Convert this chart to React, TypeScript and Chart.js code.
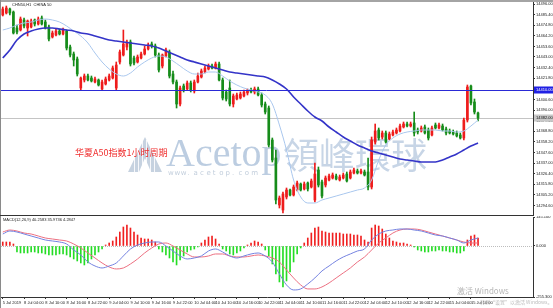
import React, { useEffect, useRef } from 'react';
import { Chart, registerables } from 'chart.js';
Chart.register(...registerables);

const SLOT_COUNT = 150;

const OPEN = [14485,14487,14491,14488,14472,14470,14480,14472,14473,14480,
 14476,14482,14478,14473,14463,14465,14469,14466,14469,14453,
 14446,14441,14412,14420,14424,14422,14418,14420,14411,14416,
 14420,14422,14412,14438,14445,14453,14458,14442,14438,14442,
 14446,14451,14456,14454,14445,14434,14444,14448,14426,14418,
 14396,14414,14411,14417,14409,14418,14423,14428,14431,14434,
 14432,14436,14420,14408,14412,14396,14401,14402,14404,14407,
 14410,14408,14411,14405,14396,14392,14360,14342,14295,14290,
 14303,14310,14305,14310,14316,14311,14317,14313,14300,14330,
 14318,14315,14320,14322,14324,14320,14322,14326,14322,14327,
 14329,14327,14328,14328,14313,14358,14370,14363,14367,14361,
 14365,14367,14369,14373,14376,14374,14377,14370,14369,14373,
 14370,14365,14375,14372,14374,14371,14369,14368,14367,14365,
 14362,14380,14414,14398,14387];

const HIGH = [14493,14494,14492,14489,14475,14483,14482,14480,14481,14481,
 14483,14484,14480,14475,14469,14471,14471,14472,14470,14455,
 14448,14443,14423,14426,14426,14424,14423,14421,14420,14423,
 14426,14434,14438,14450,14470,14460,14460,14444,14445,14448,
 14454,14457,14458,14456,14447,14446,14452,14450,14429,14420,
 14414,14416,14419,14419,14420,14427,14431,14434,14436,14436,
 14438,14438,14422,14410,14420,14406,14407,14408,14410,14411,
 14412,14413,14413,14407,14398,14394,14362,14350,14304,14308,
 14312,14311,14315,14319,14317,14318,14318,14321,14337,14333,
 14320,14324,14326,14327,14326,14325,14327,14328,14330,14332,
 14331,14331,14330,14342,14363,14376,14372,14369,14369,14368,
 14370,14372,14376,14378,14378,14378,14388,14372,14374,14375,
 14372,14374,14377,14377,14376,14373,14371,14370,14369,14367,
 14382,14415,14415,14401,14388];

const LOW = [14484,14486,14485,14466,14466,14469,14472,14464,14472,14474,
 14475,14475,14471,14459,14462,14464,14465,14465,14450,14443,
 14434,14424,14410,14418,14419,14418,14417,14414,14410,14415,
 14419,14421,14410,14436,14444,14450,14434,14435,14437,14441,
 14445,14450,14452,14443,14428,14432,14443,14422,14416,14392,
 14394,14408,14410,14408,14407,14417,14422,14427,14430,14431,
 14431,14419,14400,14399,14394,14393,14400,14401,14403,14405,
 14407,14406,14404,14393,14386,14353,14338,14296,14292,14287,
 14301,14304,14304,14309,14309,14310,14309,14312,14298,14313,
 14302,14313,14319,14321,14320,14319,14321,14318,14321,14326,
 14326,14326,14324,14310,14311,14356,14360,14361,14357,14360,
 14364,14366,14368,14372,14373,14373,14364,14366,14368,14366,
 14360,14364,14371,14371,14369,14365,14366,14365,14363,14361,
 14360,14378,14395,14386,14379];

const CLOSE = [14491,14492,14487,14467,14468,14481,14474,14479,14479,14476,
 14481,14476,14472,14461,14467,14469,14466,14470,14452,14445,
 14440,14426,14422,14424,14420,14419,14421,14415,14418,14421,
 14424,14432,14435,14448,14456,14458,14436,14437,14443,14446,
 14451,14455,14454,14445,14430,14445,14450,14424,14418,14396,
 14412,14410,14417,14410,14418,14424,14429,14432,14434,14432,
 14436,14420,14402,14401,14396,14404,14405,14406,14408,14410,
 14408,14411,14405,14395,14388,14355,14340,14300,14302,14306,
 14310,14305,14313,14317,14310,14316,14311,14319,14326,14315,
 14304,14322,14324,14325,14321,14323,14325,14319,14328,14330,
 14327,14329,14325,14313,14360,14369,14362,14367,14358,14366,
 14368,14370,14374,14376,14374,14376,14367,14368,14372,14367,
 14362,14372,14372,14375,14370,14367,14367,14366,14364,14362,
 14380,14413,14397,14388,14382];

// moving averages, one reading every second bar
const MA_SLOW = [14442,14450,14460,14466,14469,14471,14472,14472,14471,14470,
 14469,14467,14466,14464,14462,14460,14459,14458,14457,14456,
 14455,14454,14452,14449,14446,14443,14440,14438,14436,14434,
 14432,14430,14428,14427,14426,14425,14424,14423,14420,14416,
 14411,14403,14396,14389,14383,14379,14373,14368,14363,14359,
 14355,14352,14349,14347,14345,14343,14341,14340,14339,14338,
 14338,14338,14340,14343,14346,14350,14354,14357];

const MA_FAST = [14470,14472,14475,14477,14478,14480,14481,14480,14478,14474,
 14469,14464,14457,14447,14438,14431,14426,14424,14427,14433,
 14438,14442,14444,14443,14439,14434,14429,14426,14426,14428,
 14428,14424,14419,14415,14412,14410,14408,14405,14396,14375,
 14350,14320,14303,14297,14297,14300,14302,14304,14306,14308,
 14310,14312,14320,14340,14355,14362,14366,14368,14369,14370,
 14370,14370,14369,14369,14368,14369,14374,14380];

const MACD_HIST = [20,20,20,10,-30,-35,-35,-35,-30,-30,
 -35,-35,-40,-45,-45,-45,-40,-40,-45,-55,
 -65,-75,-85,-95,-85,-65,-45,-30,-15,5,
 15,25,45,70,95,105,90,70,55,40,
 35,35,30,20,-15,-30,-45,-60,-80,-95,
 -70,-50,-30,-20,-15,-5,15,30,45,50,
 35,10,-15,-25,-40,-45,-35,-25,-10,5,
 15,25,20,10,-20,-50,-90,-140,-180,-205,
 -175,-130,-80,-40,-10,15,40,65,90,95,
 75,70,65,65,65,65,60,60,60,55,
 55,50,30,20,90,105,100,85,60,40,
 25,20,15,15,10,5,-5,-20,-25,-30,
 -30,-25,-25,-20,-25,-25,-30,-30,-35,-35,
 -25,30,50,55,40];

const MACD_MAIN = [60,75,70,60,50,40,30,25,20,10,
 -20,-45,-80,-100,-110,-100,-85,-50,-15,5,
 15,20,20,0,-25,-50,-65,-60,-50,-25,
 -15,-30,-50,-60,-50,-40,-35,-50,-80,-140,
 -195,-220,-215,-190,-160,-125,-100,-75,-55,-40,
 -25,-15,30,60,75,80,85,85,80,75,
 65,55,50,40,30,15,30,40];

const MACD_SIGNAL = [70,80,75,65,60,50,40,35,30,25,
 10,-10,-35,-60,-85,-105,-115,-110,-90,-65,
 -35,-10,10,15,0,-20,-40,-55,-55,-50,
 -40,-40,-50,-55,-55,-50,-45,-50,-60,-80,
 -120,-160,-195,-215,-215,-205,-185,-160,-135,-110,
 -80,-55,-20,15,40,65,80,85,85,80,
 70,60,50,40,30,20,15,15];

const PRICE_TICKS = [14496.0,14485.4,14474.8,14464.2,14453.6,14443.0,14432.4,14421.8,14411.2,14400.6,
 14390.0,14379.4,14368.8,14358.2,14347.6,14337.0,14326.4,14315.8,14305.2,14294.6];
const PRICE_MIN = 14285;
const PRICE_MAX = 14498;
const LEVEL_LINE = 14410;

const MACD_TICKS = [145.1, 0, -255.3];

const TIME_LABELS = ['5 Jul 2019','8 Jul 04:00','8 Jul 10:00','8 Jul 16:00','8 Jul 22:00','9 Jul 04:00',
 '9 Jul 10:00','9 Jul 16:00','9 Jul 22:00','10 Jul 04:00','10 Jul 10:00','10 Jul 16:00','10 Jul 22:00',
 '11 Jul 04:00','11 Jul 10:00','11 Jul 16:00','11 Jul 22:00','12 Jul 04:00','12 Jul 10:00','12 Jul 16:00',
 '12 Jul 22:00','15 Jul 04:00','15 Jul 10:00'];
const LABEL_STEP = 6;

const TITLE = 'CHN50,H1  CHINA 50';
const MACD_TITLE = 'MACD(12,26,9) 40.2583 35.9736 4.2847';
const NOTE = '华夏A50指数1小时周期';

const UP = '#ee1c1c';
const DOWN = '#168c1a';
const TINY = '4px "Liberation Sans"';

function sparse(vals: number[]): (number | null)[] {
  return Array.from({ length: SLOT_COUNT }, (_, i) => (i % 2 === 0 && i / 2 < vals.length ? vals[i / 2] : null));
}

export default function App() {
  const mainRef = useRef<HTMLCanvasElement>(null);
  const macdRef = useRef<HTMLCanvasElement>(null);

  useEffect(() => {
    document.body.style.margin = '0';
    const labels = Array.from({ length: SLOT_COUNT }, (_, i) => String(i));
    const candleColors = CLOSE.map((c, i) => (c >= OPEN[i] ? UP : DOWN));

    const mainDecor = {
      id: 'mainDecor',
      beforeDatasetsDraw(chart: any) {
        const ctx = chart.ctx;
        const { left, right } = chart.chartArea;
        ctx.save();
        // watermark logo
        ctx.fillStyle = '#c6d2e0';
        ctx.beginPath(); ctx.moveTo(128, 172); ctx.lineTo(145, 137); ctx.lineTo(162, 172); ctx.closePath(); ctx.fill();
        ctx.strokeStyle = 'rgba(255,255,255,0.85)'; ctx.lineWidth = 1;
        for (let x = 134; x <= 156; x += 4) { ctx.beginPath(); ctx.moveTo(x + 0.5, 140); ctx.lineTo(x + 0.5, 172); ctx.stroke(); }
        ctx.fillStyle = '#ffffff';
        ctx.beginPath(); ctx.moveTo(139, 172); ctx.lineTo(145, 158); ctx.lineTo(151, 172); ctx.closePath(); ctx.fill();
        // watermark text
        ctx.textBaseline = 'alphabetic';
        ctx.textAlign = 'left';
        ctx.fillStyle = '#bccde1';
        ctx.font = '40px "Liberation Serif"';
        ctx.fillText('Acetop', 166, 166);
        ctx.fillStyle = '#c2cedc';
        ctx.font = '7px "DejaVu Sans"';
        const site = 'www.acetop.com';
        for (let k = 0; k < site.length; k++) ctx.fillText(site[k], 168 + k * 6.4, 175);
        ctx.fillStyle = '#c7d5e6';
        ctx.font = '36px "Noto Sans CJK TC"';
        ctx.fillText('領峰環球', 283, 169);
        // current price line
        const yC = Math.round(chart.scales.y.getPixelForValue(CLOSE[CLOSE.length - 1])) + 0.5;
        ctx.strokeStyle = '#c4c4c4'; ctx.lineWidth = 1;
        ctx.beginPath(); ctx.moveTo(left, yC); ctx.lineTo(right, yC); ctx.stroke();
        ctx.restore();
      },
      afterDatasetsDraw(chart: any) {
        const ctx = chart.ctx;
        const { left, right } = chart.chartArea;
        const y = Math.round(chart.scales.y.getPixelForValue(LEVEL_LINE)) + 0.5;
        ctx.save();
        ctx.strokeStyle = '#2a2ad6'; ctx.lineWidth = 1;
        ctx.beginPath(); ctx.moveTo(left - 1, y); ctx.lineTo(right, y); ctx.stroke();
        ctx.restore();
      },
      afterDraw(chart: any) {
        const ctx = chart.ctx;
        const { right, bottom } = chart.chartArea;
        const ys = chart.scales.y;
        ctx.save();
        // frame
        ctx.fillStyle = '#a4a4a4';
        ctx.fillRect(0, 0, 553, 2);
        ctx.fillStyle = '#8a8a8a';
        ctx.fillRect(0, 0, 1, 216);
        ctx.fillStyle = '#333333';
        ctx.fillRect(0, bottom, right + 1, 1);
        // axis price boxes
        ctx.font = TINY; ctx.textBaseline = 'middle'; ctx.textAlign = 'left';
        const yl = ys.getPixelForValue(LEVEL_LINE);
        ctx.fillStyle = '#2020e4';
        ctx.fillRect(right + 1, yl - 3.5, 19, 7);
        ctx.fillStyle = '#ffffff';
        ctx.fillText(LEVEL_LINE.toFixed(2), right + 3, yl);
        const yc = ys.getPixelForValue(CLOSE[CLOSE.length - 1]);
        ctx.fillStyle = '#c8c8c8';
        ctx.fillRect(right + 1, yc - 3.5, 19, 7);
        ctx.fillStyle = '#111111';
        ctx.fillText(CLOSE[CLOSE.length - 1].toFixed(2), right + 3, yc);
        // title
        ctx.fillStyle = '#222222';
        ctx.fillText(TITLE, 12, 5);
        // red annotation
        ctx.fillStyle = '#ef2b2b';
        ctx.font = '9px "Noto Sans CJK SC"';
        ctx.fillText(NOTE, 75, 153);
        ctx.restore();
      },
    };

    const main = new Chart(mainRef.current as HTMLCanvasElement, {
      type: 'bar',
      data: {
        labels,
        datasets: [
          { type: 'line', data: sparse(MA_SLOW), borderColor: '#3434c8', borderWidth: 1.6, pointRadius: 0, spanGaps: true, cubicInterpolationMode: 'monotone', order: 0 } as any,
          { type: 'line', data: sparse(MA_FAST), borderColor: '#a9c7ee', borderWidth: 1, pointRadius: 0, spanGaps: true, cubicInterpolationMode: 'monotone', order: 0 } as any,
          { type: 'bar', data: OPEN.map((o, i) => [o, CLOSE[i]]), backgroundColor: candleColors, barThickness: 2, grouped: false, order: 1 } as any,
          { type: 'bar', data: LOW.map((l, i) => [l, HIGH[i]]), backgroundColor: candleColors, barThickness: 1, grouped: false, order: 2 } as any,
        ],
      },
      options: {
        animation: false,
        responsive: false,
        events: [],
        layout: { padding: { left: 1, top: 2, right: 0, bottom: 1 } },
        plugins: { legend: { display: false }, tooltip: { enabled: false } },
        scales: {
          x: { type: 'category', display: false, offset: true },
          y: {
            type: 'linear', position: 'right', min: PRICE_MIN, max: PRICE_MAX,
            afterBuildTicks: (s: any) => { s.ticks = PRICE_TICKS.map((v) => ({ value: v })); },
            afterFit: (s: any) => { s.width = 20; s.paddingTop = 0; s.paddingBottom = 0; },
            ticks: { autoSkip: false, padding: 1, font: { size: 4, family: 'Liberation Sans' }, color: '#222', callback: (v: any) => Number(v).toFixed(2) },
            grid: { drawOnChartArea: false, drawTicks: true, tickLength: 2, color: '#333' },
            border: { display: true, color: '#333' },
          },
        },
      } as any,
      plugins: [mainDecor],
    });

    const macdDecor = {
      id: 'macdDecor',
      beforeDatasetsDraw(chart: any) {
        const ctx = chart.ctx;
        const { left, right } = chart.chartArea;
        const y0 = Math.round(chart.scales.y.getPixelForValue(0)) + 0.5;
        ctx.save();
        ctx.strokeStyle = '#bdbdbd'; ctx.lineWidth = 1; ctx.setLineDash([1, 1]);
        ctx.beginPath(); ctx.moveTo(left, y0); ctx.lineTo(right, y0); ctx.stroke();
        ctx.restore();
      },
      afterDraw(chart: any) {
        const ctx = chart.ctx;
        ctx.save();
        ctx.fillStyle = '#8a8a8a';
        ctx.fillRect(0, 0, 1, 92);
        ctx.font = TINY; ctx.textBaseline = 'middle'; ctx.textAlign = 'left';
        ctx.fillStyle = '#222222';
        ctx.fillText(MACD_TITLE, 3, 4);
        ctx.fillStyle = 'rgba(150,150,150,0.7)';
        ctx.font = '8px "Noto Sans CJK SC"';
        ctx.fillText('激活 Windows', 457, 75);
        ctx.font = '5px "Noto Sans CJK SC"';
        ctx.fillStyle = 'rgba(160,160,160,0.7)';
        ctx.fillText('转到“设置”以激活 Windows。', 480, 86);
        ctx.restore();
      },
    };

    const isLabelIdx = (i: number) => i % LABEL_STEP === 0 && i / LABEL_STEP < TIME_LABELS.length;

    const macd = new Chart(macdRef.current as HTMLCanvasElement, {
      type: 'bar',
      data: {
        labels,
        datasets: [
          { type: 'line', data: sparse(MACD_MAIN), borderColor: '#7482e0', borderWidth: 1, pointRadius: 0, spanGaps: true, cubicInterpolationMode: 'monotone', order: 0 } as any,
          { type: 'line', data: sparse(MACD_SIGNAL), borderColor: '#ec6f80', borderWidth: 1, pointRadius: 0, spanGaps: true, cubicInterpolationMode: 'monotone', order: 0 } as any,
          { type: 'bar', data: MACD_HIST, backgroundColor: MACD_HIST.map((v) => (v >= 0 ? '#f02020' : '#25dd25')), barThickness: 1, order: 1 } as any,
        ],
      },
      options: {
        animation: false,
        responsive: false,
        events: [],
        layout: { padding: { left: 1, top: 1, right: 0, bottom: 0 } },
        plugins: { legend: { display: false }, tooltip: { enabled: false } },
        scales: {
          x: {
            type: 'category', offset: true, position: 'bottom',
            afterFit: (s: any) => { s.height = 11; s.paddingLeft = 0; s.paddingRight = 0; },
            ticks: {
              autoSkip: false, maxRotation: 0, minRotation: 0, align: 'start', padding: 1,
              font: { size: 4, family: 'Liberation Sans' }, color: '#222',
              callback: (_v: any, i: number) => (isLabelIdx(i) ? TIME_LABELS[i / LABEL_STEP] : ''),
            },
            grid: {
              offset: false, drawOnChartArea: false, drawTicks: true, tickLength: 2,
              color: (c: any) => (isLabelIdx(c.index) ? '#333' : 'rgba(0,0,0,0)'),
            },
            border: { display: true, color: '#333' },
          },
          y: {
            type: 'linear', position: 'right', min: MACD_TICKS[2], max: MACD_TICKS[0],
            afterBuildTicks: (s: any) => { s.ticks = MACD_TICKS.map((v) => ({ value: v })); },
            afterFit: (s: any) => { s.width = 20; s.paddingTop = 0; s.paddingBottom = 0; },
            ticks: { autoSkip: false, padding: 1, font: { size: 4, family: 'Liberation Sans' }, color: '#222', callback: (v: any) => Number(v).toFixed(3) },
            grid: { drawOnChartArea: false, drawTicks: true, tickLength: 2, color: '#333' },
            border: { display: true, color: '#333' },
          },
        },
      } as any,
      plugins: [macdDecor],
    });

    return () => { main.destroy(); macd.destroy(); };
  }, []);

  return (
    <div style={{ position: 'absolute', left: 0, top: 0, width: 553, height: 308, background: '#ffffff', overflow: 'hidden' }}>
      <canvas ref={mainRef} width={553} height={216} style={{ position: 'absolute', left: 0, top: 0 }} />
      <canvas ref={macdRef} width={553} height={92} style={{ position: 'absolute', left: 0, top: 216 }} />
    </div>
  );
}
